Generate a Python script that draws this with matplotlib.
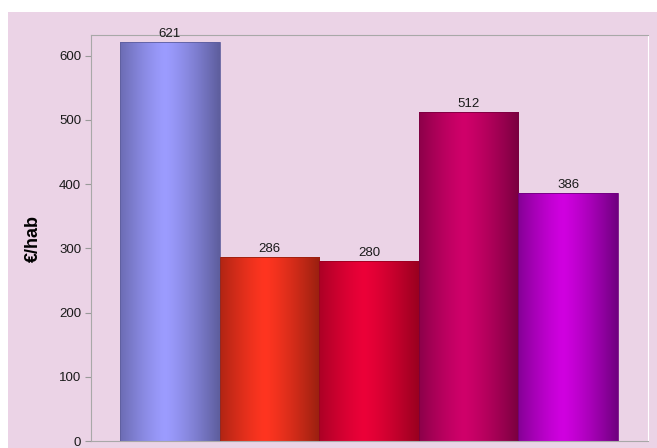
import numpy as np
import matplotlib.pyplot as plt
from matplotlib.patches import Rectangle
from matplotlib.colors import to_rgb

plt.rcParams["font.family"] = ["Liberation Sans", "DejaVu Sans"]

valores = [621, 286, 280, 512, 386]
cores_centro = ["#9c9cff", "#ff3520", "#ec0038", "#d0006a", "#d000e0"]
cores_borda = ["#5e5e9e", "#9a2010", "#9a0020", "#7a0040", "#700080"]
ylim_max = 632
fundo = "#ebd3e6"


def gradiente(c_centro, c_borda, n=64):
    t = np.linspace(0, 1, n)
    # brilho um pouco à esquerda do centro
    d = np.abs(t - 0.45) / 0.55
    d = np.clip(d, 0, 1) ** 1.3
    c0 = np.array(to_rgb(c_centro))
    c1 = np.array(to_rgb(c_borda))
    img = c0[None, :] * (1 - d[:, None]) + c1[None, :] * d[:, None]
    return img[None, :, :]


fig = plt.figure(figsize=(6.57, 4.48), dpi=100, facecolor="white")
fig.patches.append(Rectangle((8 / 657, 0), 1, 1 - 12 / 448,
                             transform=fig.transFigure, facecolor=fundo,
                             edgecolor="none", zorder=-10))

ax = fig.add_axes([91 / 657, 7 / 448, (648 - 91) / 657, (441 - 35) / 448])
ax.set_facecolor(fundo)

for i, v in enumerate(valores):
    x0, x1 = i - 0.5, i + 0.5
    ax.imshow(gradiente(cores_centro[i], cores_borda[i]), extent=(x0, x1, 0, v),
              aspect="auto", zorder=2, interpolation="bilinear")
    ax.add_patch(Rectangle((x0, 0), 1, v, facecolor="none",
                           edgecolor=cores_borda[i], linewidth=0.6, zorder=3))
    ax.text(i, v + 3, str(v), ha="center", va="bottom", fontsize=9.5,
            color="#1a1a1a", zorder=4)

ax.set_xlim(-0.79, 4.80)
ax.set_ylim(0, ylim_max)
ax.set_yticks([0, 100, 200, 300, 400, 500, 600])
ax.set_xticks([2])
ax.set_xticklabels([""])
ax.tick_params(axis="y", colors="#999999", labelcolor="#1a1a1a", length=4,
               labelsize=9.5, pad=3)
ax.tick_params(axis="x", colors="#999999", length=4, direction="in")

for lado in ["left", "top", "bottom"]:
    ax.spines[lado].set_color("#a8a8a8")
ax.spines["right"].set_color("#ffffff")

ax.set_ylabel("€/hab", fontsize=13, fontweight="bold", labelpad=12)

fig.savefig("out.png", dpi=100, facecolor=fig.get_facecolor())
